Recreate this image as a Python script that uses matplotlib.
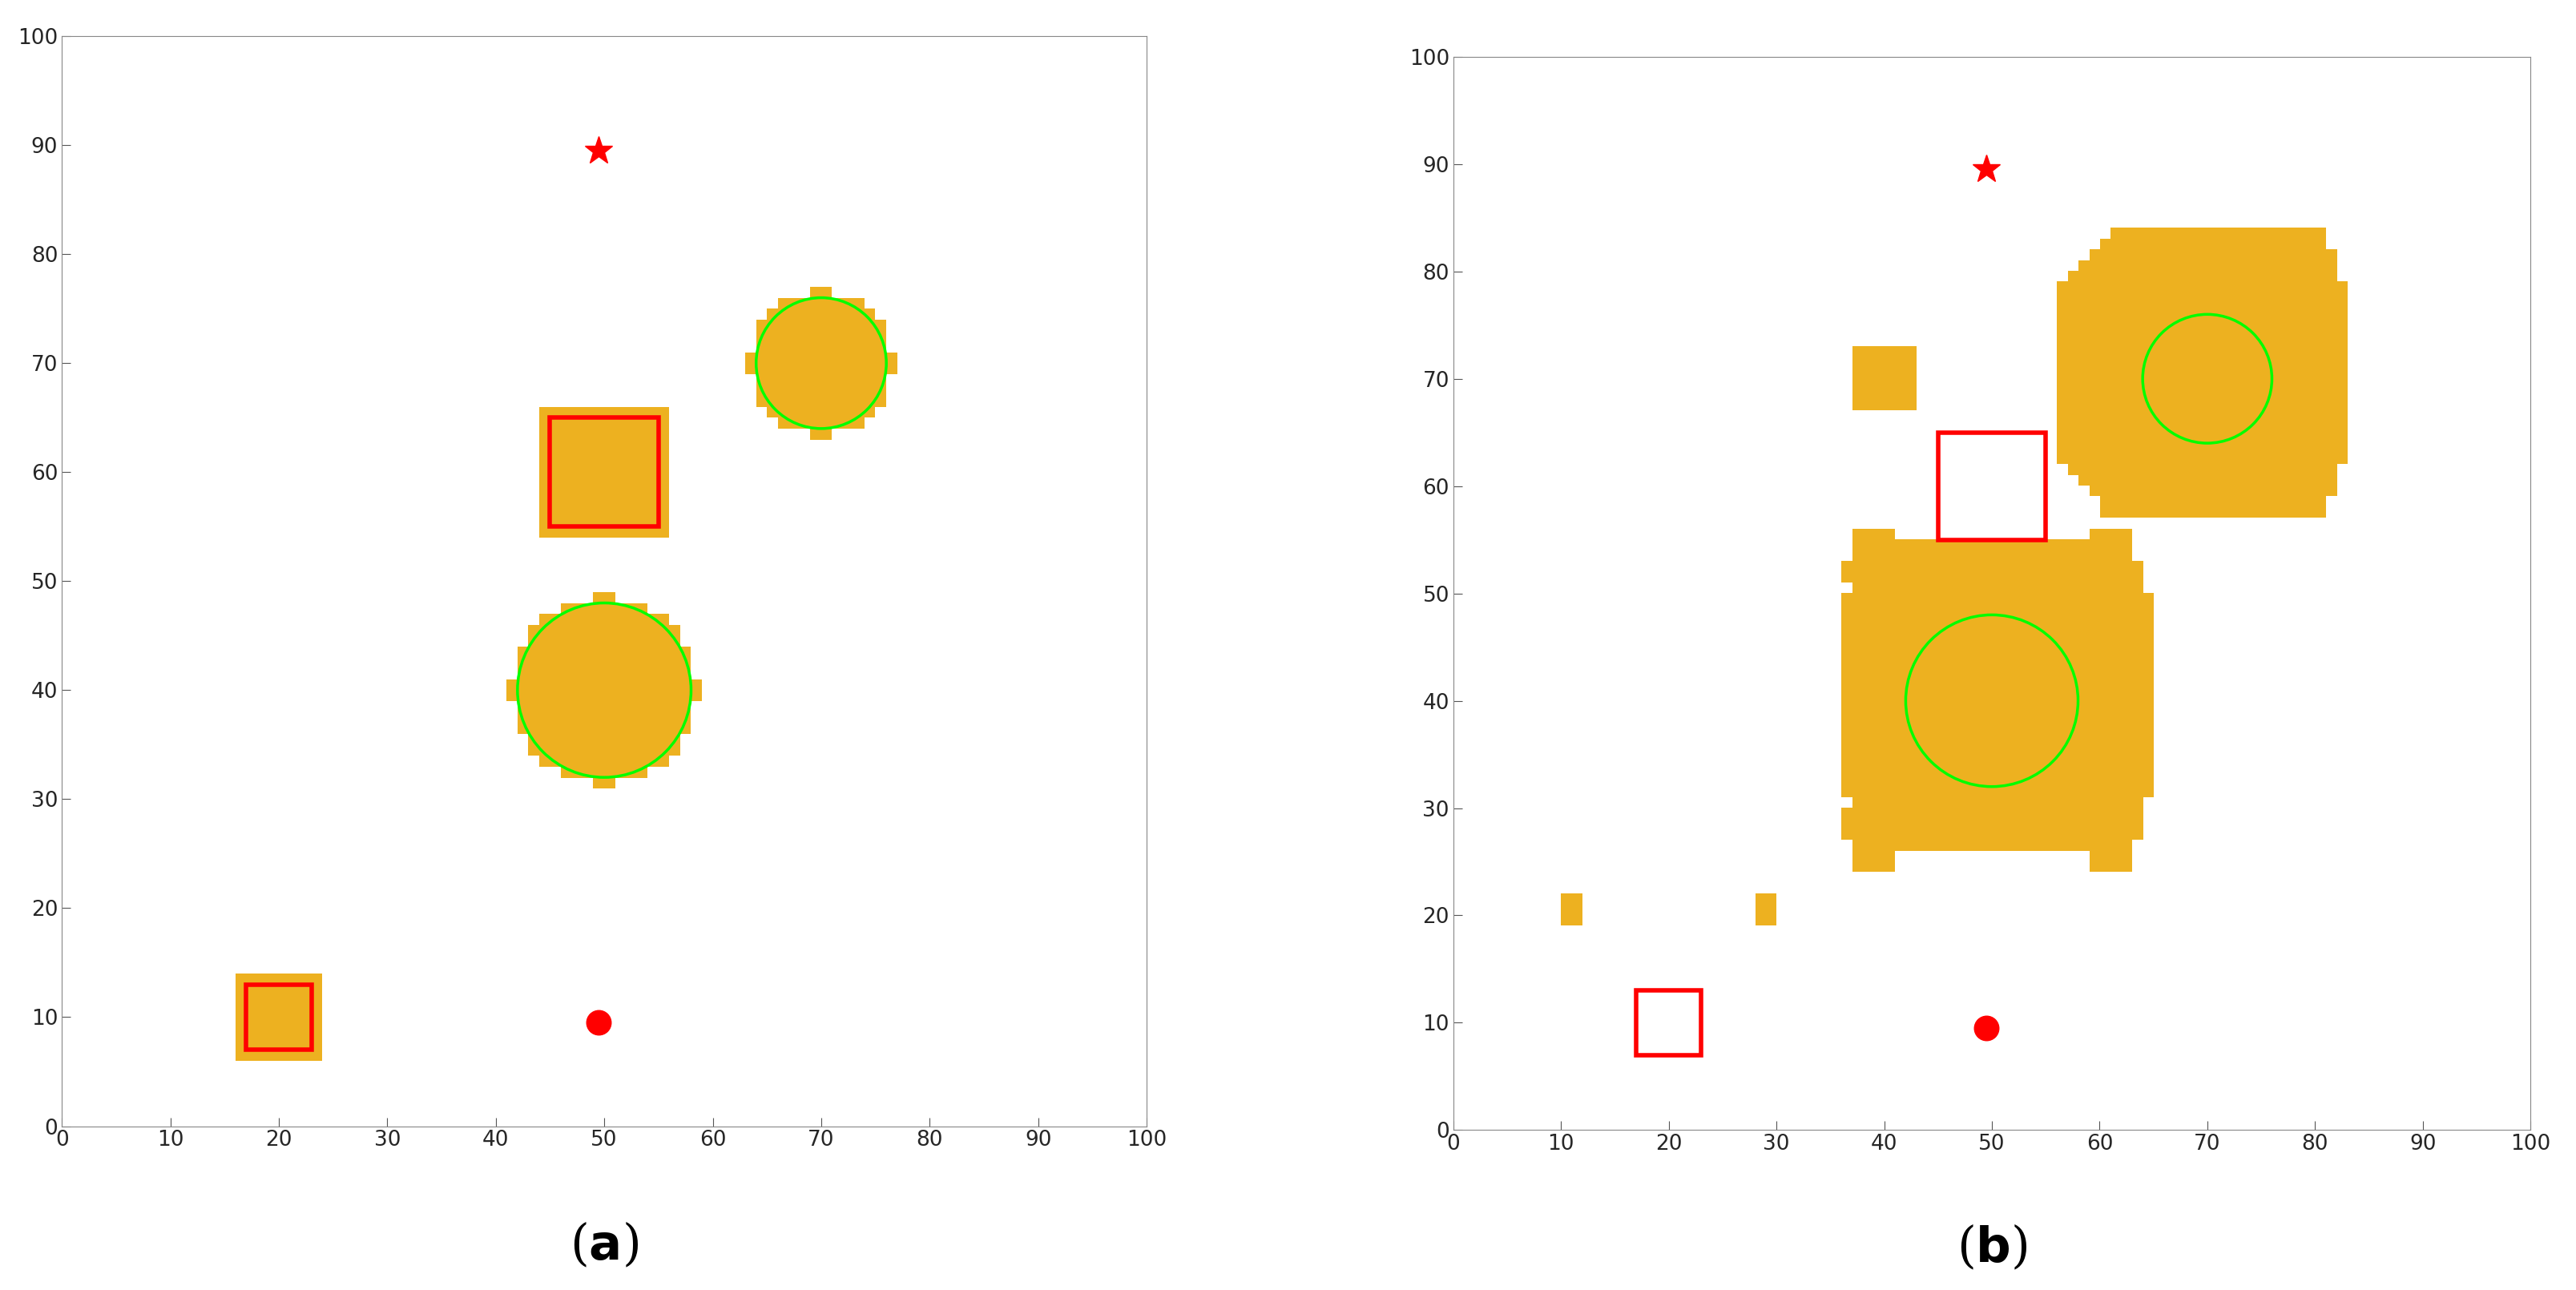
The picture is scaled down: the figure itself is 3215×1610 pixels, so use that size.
import numpy as np
import matplotlib.pyplot as plt
from matplotlib.patches import Circle, Rectangle
from matplotlib.colors import ListedColormap

gold = '#EDB120'

# obstacles: circles (cx, cy, r) and squares (x0, y0, w, h)
circles = [(50, 40, 8), (70, 70, 6)]
squares = [(45, 55, 10, 10), (17, 7, 6, 6)]
start = (49.5, 9.5)
goal = (49.5, 89.5)

# inflated occupancy, panel (a): circle radius + margin, squares + margin
circle_margin_a = [0.6, 0.6]
square_margin_a = [1.0, 1.0]

# panel (b): big blobs (cx, cy, half-width, corner cut radius), extra cells
blobs_b = [(50.5, 40.5, 14.5, 17.0), (69.5, 70.5, 13.0, 15.3)]
ears_b = [(39, 54.5, 1.6), (61, 54.5, 1.6), (39, 26, 1.6), (61, 26, 1.6),
          (37.5, 52, 1.2), (62.5, 52, 1.2), (37.5, 28.5, 1.2), (62.5, 28.5, 1.2),
          (63, 82.5, 1.6), (79, 82.5, 1.6), (62, 58.5, 1.6), (79, 58.5, 1.6),
          (60, 80.5, 1.2), (81, 80.5, 1.2), (60, 60, 1.2), (81, 60, 1.2)]
blocks_b = [(37, 67, 6, 6), (10, 19.5, 2, 2), (28, 19.5, 2, 2)]

xc = np.arange(100) + 0.5
X, Y = np.meshgrid(xc, xc)

mask_a = np.zeros_like(X, dtype=bool)
for (cx, cy, r), m in zip(circles, circle_margin_a):
    mask_a |= np.hypot(X - cx, Y - cy) <= r + m
for (x0, y0, w, h), m in zip(squares, square_margin_a):
    mask_a |= (X >= x0 - m) & (X <= x0 + w + m) & (Y >= y0 - m) & (Y <= y0 + h + m)

mask_b = np.zeros_like(X, dtype=bool)
for cx, cy, hw, rc in blobs_b:
    mask_b |= (abs(X - cx) <= hw) & (abs(Y - cy) <= hw) & (np.hypot(X - cx, Y - cy) <= rc)
for cx, cy, r in ears_b:
    mask_b |= (abs(X - cx) <= r) & (abs(Y - cy) <= r)
for x0, y0, w, h in blocks_b:
    mask_b |= (X >= x0) & (X <= x0 + w) & (Y >= y0) & (Y <= y0 + h)

fig = plt.figure(figsize=(32.16, 16.10), dpi=100)
ax_a = fig.add_axes([0.024, 0.127, 0.421, 0.845])
ax_b = fig.add_axes([0.564, 0.124, 0.418, 0.832])
cmap = ListedColormap(['white', gold])

for ax, mask, label, show_fill in [(ax_a, mask_a, 'a', True), (ax_b, mask_b, 'b', False)]:
    ax.imshow(mask.astype(int), cmap=cmap, origin='lower', extent=(0, 100, 0, 100),
              interpolation='nearest', aspect='auto', vmin=0, vmax=1)
    for cx, cy, r in circles:
        ax.add_patch(Circle((cx, cy), r, fill=False, ec='#00FF00', lw=2.5, zorder=4))
    for x0, y0, w, h in squares:
        ax.add_patch(Rectangle((x0, y0), w, h, fc=gold if show_fill else 'white',
                               ec='red', lw=4, zorder=3))
    ax.plot(*start, 'o', color='red', ms=22)
    ax.plot(*goal, '*', color='red', ms=26)
    ax.set_xlim(0, 100)
    ax.set_ylim(0, 100)
    ax.set_xticks(range(0, 101, 10))
    ax.set_yticks(range(0, 101, 10))
    ax.tick_params(labelsize=19, direction='in', length=8, color='#555555', labelcolor='#262626')
    for s in ax.spines.values():
        s.set_color('#888888')
    ax.text(0.5, -0.11, r'($\mathbf{' + label + r'}$)', transform=ax.transAxes,
            ha='center', va='center', fontsize=44, family='DejaVu Serif')

fig.savefig('out.png', dpi=100)
